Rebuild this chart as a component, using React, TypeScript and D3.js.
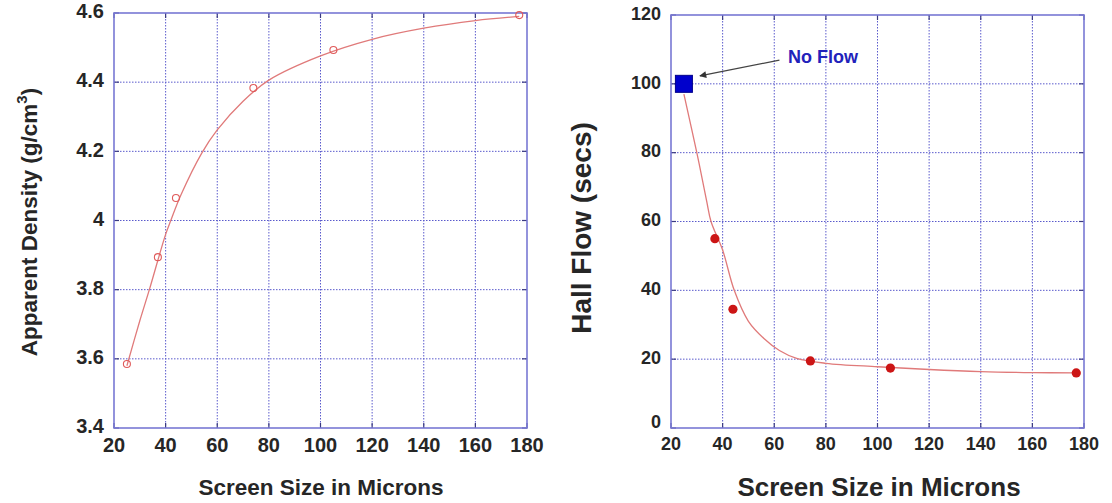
import React from 'react';
import * as d3 from 'd3';

const W = 1112;
const H = 503;

// screen sizes in microns (500, 400, 325, 200, 140, 80 mesh)
const screenSizes = [25, 37, 44, 74, 105, 177];
const density = [3.585, 3.894, 4.065, 4.383, 4.493, 4.594];
const hallFlow = [55, 34.5, 19.5, 17.4, 16];
const noFlowSize = 25;
const noFlowValue = 100;

// fitted curves
const densityFitX = [25, 30, 33.7, 40, 42, 46, 54, 60, 70, 80, 100, 120, 140, 160, 177];
const densityFitY = [3.58, 3.71, 3.8, 3.96, 4.0, 4.075, 4.195, 4.262, 4.345, 4.406, 4.476, 4.524, 4.556, 4.578, 4.59];
const flowFitX = [25, 30, 33.8, 35.5, 40, 44.5, 50, 56, 62, 68.7, 80, 100, 120, 140, 160, 177];
const flowFitY = [97, 80, 66, 60, 51.7, 40, 31, 26, 22.5, 20.2, 18.8, 17.8, 17, 16.4, 16.1, 16];

const xTicks = [20, 40, 60, 80, 100, 120, 140, 160, 180];
const densityTicks = [3.4, 3.6, 3.8, 4, 4.2, 4.4, 4.6];
const flowTicks = [0, 20, 40, 60, 80, 100, 120];

const font = '"Liberation Sans", Arial, sans-serif';
const gridColor = '#5a5acc';
const frameColor = '#7878d4';
const curveColor = '#e07a7a';
const textColor = '#262626';

function Panel({
  x, y, xt, yt, fontSize, tickFmt, lowRaise, xLabelGap,
}: {
  x: d3.ScaleLinear<number, number>;
  y: d3.ScaleLinear<number, number>;
  xt: number[];
  yt: number[];
  fontSize: number;
  tickFmt: (v: number) => string;
  lowRaise: number;
  xLabelGap: number;
}) {
  const [x0, x1] = x.range();
  const [yb, ytop] = y.range();
  const tl = 5;
  return (
    <g>
      <rect x={x0} y={ytop} width={x1 - x0} height={yb - ytop} fill="#fff" />
      {xt.slice(1, -1).map(v => (
        <line key={'gx' + v} x1={x(v)} x2={x(v)} y1={ytop} y2={yb}
          stroke={gridColor} strokeWidth={1} strokeDasharray="1.5,1.5" />
      ))}
      {yt.slice(1, -1).map(v => (
        <line key={'gy' + v} x1={x0} x2={x1} y1={y(v)} y2={y(v)}
          stroke={gridColor} strokeWidth={1} strokeDasharray="1.5,1.5" />
      ))}
      {xt.map(v => (
        <g key={'tx' + v}>
          <line x1={x(v)} x2={x(v)} y1={yb} y2={yb - tl} stroke="#3a3a80" strokeWidth={1.2} />
          <line x1={x(v)} x2={x(v)} y1={ytop} y2={ytop + tl} stroke="#3a3a80" strokeWidth={1.2} />
          <text x={x(v)} y={yb + xLabelGap} textAnchor="middle" dominantBaseline="middle"
            fontFamily={font} fontWeight="bold" fontSize={fontSize} fill={textColor}>{v}</text>
        </g>
      ))}
      {yt.map((v, i) => (
        <g key={'ty' + v}>
          <line x1={x0} x2={x0 + tl} y1={y(v)} y2={y(v)} stroke="#3a3a80" strokeWidth={1.2} />
          <line x1={x1} x2={x1 - tl} y1={y(v)} y2={y(v)} stroke="#3a3a80" strokeWidth={1.2} />
          <text x={x0 - 10} y={y(v) - (i === 0 ? lowRaise : 0)} textAnchor="end" dominantBaseline="middle"
            fontFamily={font} fontWeight="bold" fontSize={fontSize} fill={textColor}>{tickFmt(v)}</text>
        </g>
      ))}
      <rect x={x0} y={ytop} width={x1 - x0} height={yb - ytop} fill="none" stroke={frameColor} strokeWidth={1.6} />
    </g>
  );
}

export default function App() {
  const xL = d3.scaleLinear().domain([20, 180]).range([114, 527]);
  const yL = d3.scaleLinear().domain([3.4, 4.6]).range([428, 13]);
  const xR = d3.scaleLinear().domain([20, 180]).range([671, 1084]);
  const yR = d3.scaleLinear().domain([0, 120]).range([428, 15]);

  const densityFit = densityFitX.map((v, i) => [v, densityFitY[i]] as [number, number]);
  const flowFit = flowFitX.map((v, i) => [v, flowFitY[i]] as [number, number]);

  const lineL = d3.line<[number, number]>().x(d => xL(d[0])).y(d => yL(d[1])).curve(d3.curveCatmullRom.alpha(0.5));
  const lineR = d3.line<[number, number]>().x(d => xR(d[0])).y(d => yR(d[1])).curve(d3.curveCatmullRom.alpha(0.5));

  const flowSizes = screenSizes.slice(1);
  const sq = 17;

  // annotation arrow in data coords
  const arrowFrom = [62, 106.9];
  const arrowTo = [31.2, 102.3];

  return (
    <div style={{ position: 'fixed', left: 0, top: 0 }}>
      <svg width={W} height={H} viewBox={`0 0 ${W} ${H}`} style={{ display: 'block', background: '#fff' }}>
        <defs>
          <marker id="arrowhead" viewBox="0 0 10 10" refX="9" refY="5" markerWidth="9" markerHeight="7"
            markerUnits="userSpaceOnUse" orient="auto">
            <path d="M0,0 L10,5 L0,10 z" fill="#333" />
          </marker>
        </defs>

        {/* left panel: apparent density */}
        <Panel x={xL} y={yL} xt={xTicks} yt={densityTicks} fontSize={20} xLabelGap={19}
          tickFmt={v => (v === 4 ? '4' : v.toFixed(1))} lowRaise={0} />
        <path d={lineL(densityFit) || ''} fill="none" stroke={curveColor} strokeWidth={1.3} />
        {screenSizes.map((s, i) => (
          <circle key={'d' + s} cx={xL(s)} cy={yL(density[i])} r={3.5}
            fill="none" stroke="#e05a5a" strokeWidth={1.1} />
        ))}
        <text x={321} y={495} textAnchor="middle" fontFamily={font} fontWeight="bold" fontSize={22.5} fill={textColor}>
          Screen Size in Microns
        </text>
        <text transform="translate(37,222) rotate(-90)" textAnchor="middle" fontFamily={font}
          fontWeight="bold" fontSize={22.5} fill={textColor}>
          Apparent Density (g/cm<tspan dy={-10} fontSize={15}>3</tspan><tspan dy={10}>)</tspan>
        </text>

        {/* right panel: hall flow */}
        <Panel x={xR} y={yR} xt={xTicks} yt={flowTicks} fontSize={18} xLabelGap={17}
          tickFmt={v => String(v)} lowRaise={5} />
        <path d={lineR(flowFit) || ''} fill="none" stroke={curveColor} strokeWidth={1.3} />
        {flowSizes.map((s, i) => (
          <circle key={'f' + s} cx={xR(s)} cy={yR(hallFlow[i])} r={4.6} fill="#cc1515" />
        ))}
        <rect x={xR(noFlowSize) - sq / 2} y={yR(noFlowValue) - sq / 2} width={sq} height={sq}
          fill="#0000cc" stroke="#00008a" strokeWidth={1} />
        <line x1={xR(arrowFrom[0])} y1={yR(arrowFrom[1])} x2={xR(arrowTo[0])} y2={yR(arrowTo[1])}
          stroke="#444" strokeWidth={1.3} markerEnd="url(#arrowhead)" />
        <text x={xR(65.3)} y={yR(107.5)} dominantBaseline="middle" fontFamily={font} fontWeight="bold"
          fontSize={18} fill="#2222bb">No Flow</text>
        <text x={879} y={496} textAnchor="middle" fontFamily={font} fontWeight="bold" fontSize={26} fill={textColor}>
          Screen Size in Microns
        </text>
        <text transform="translate(591,228) rotate(-90)" textAnchor="middle" fontFamily={font}
          fontWeight="bold" fontSize={28} fill={textColor}>
          Hall Flow (secs)
        </text>
      </svg>
    </div>
  );
}
